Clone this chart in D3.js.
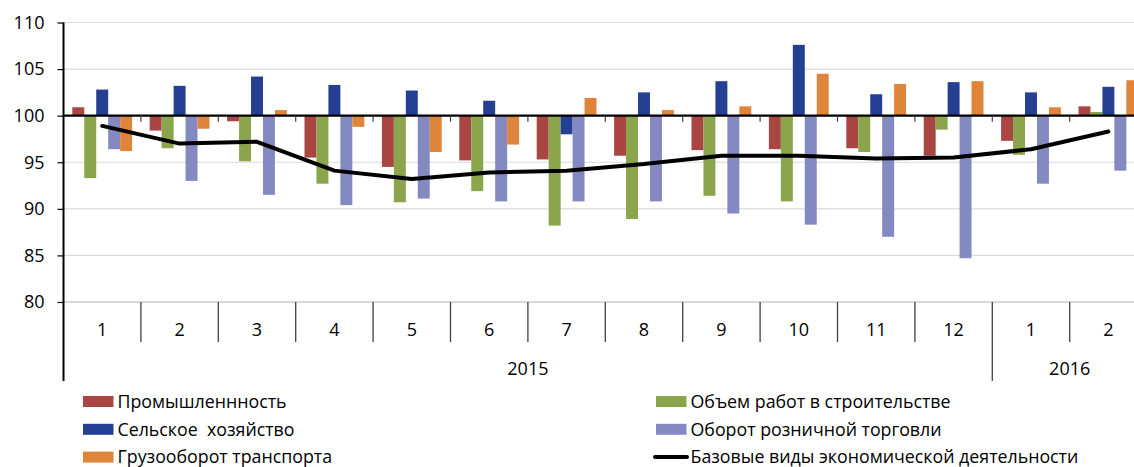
<!DOCTYPE html>
<html>
<head>
<meta charset="utf-8">
<script src="https://cdnjs.cloudflare.com/ajax/libs/d3/7.8.5/d3.min.js"></script>
<style>
  body { margin: 0; background: #fff; }
  text { font-family: "Open Sans", sans-serif; fill: #000; white-space: pre; }
</style>
</head>
<body>
<div id="chart"></div>
<script>
// months on the x axis, two years
const months = ["1", "2", "3", "4", "5", "6", "7", "8", "9", "10", "11", "12", "1", "2"];
const years = [{label: "2015", start: 0, count: 12}, {label: "2016", start: 12, count: 2}];

const seriesNames = ["Промышленнность", "Объем работ в строительстве", "Сельское  хозяйство",
                     "Оборот розничной торговли", "Грузооборот транспорта"];
const seriesColors = ["#AA4642", "#8AA54B", "#253F93", "#8489C2", "#DE843B"];

const industry     = [100.9, 98.4, 99.4, 95.5, 94.5, 95.2, 95.3, 95.7, 96.3, 96.4, 96.5, 95.7, 97.3, 101.0];
const construction = [93.3, 96.5, 95.1, 92.7, 90.7, 91.9, 88.2, 88.9, 91.4, 90.8, 96.1, 98.5, 95.8, 100.4];
const agriculture  = [102.8, 103.2, 104.2, 103.3, 102.7, 101.6, 98.0, 102.5, 103.7, 107.6, 102.3, 103.6, 102.5, 103.1];
const retail       = [96.4, 93.0, 91.5, 90.4, 91.1, 90.8, 90.8, 90.8, 89.5, 88.3, 87.0, 84.7, 92.7, 94.1];
const freight      = [96.2, 98.6, 100.6, 98.8, 96.1, 96.9, 101.9, 100.6, 101.0, 104.5, 103.4, 103.7, 100.9, 103.8];
const baseActivity = [98.9, 97.0, 97.2, 94.1, 93.2, 93.9, 94.1, 94.8, 95.7, 95.7, 95.4, 95.5, 96.4, 98.3];

const yTicks = [80, 85, 90, 95, 100, 105, 110];
const seriesData = [industry, construction, agriculture, retail, freight];

const width = 1134, height = 467;
const margin = {left: 63.5, top: 22.5, plotBottom: 302};
const plotWidth = 77.4 * months.length;

const svg = d3.select("#chart").append("svg")
    .attr("width", width)
    .attr("height", height);

const x0 = d3.scaleBand()
    .domain(d3.range(months.length))
    .range([margin.left, margin.left + plotWidth]);

const x1 = d3.scaleBand()
    .domain(d3.range(seriesData.length))
    .range([8.8, x0.bandwidth() - 8.8]);

const y = d3.scaleLinear()
    .domain([80, 110])
    .range([margin.plotBottom, margin.top]);

// gridlines
svg.append("g")
    .selectAll("line")
    .data(yTicks.filter(d => d !== 100))
    .join("line")
    .attr("x1", margin.left)
    .attr("x2", margin.left + plotWidth)
    .attr("y1", d => y(d))
    .attr("y2", d => y(d))
    .attr("stroke", "#D9D9D9")
    .attr("stroke-width", d => d === 80 ? 2 : 1.2);

// y axis
const yAxis = d3.axisLeft(y).tickValues(yTicks).tickSize(6).tickPadding(13);
const yG = svg.append("g")
    .attr("transform", "translate(" + margin.left + ",0)")
    .call(yAxis);
yG.select(".domain").remove();
yG.selectAll(".tick line").attr("stroke", "#000").attr("stroke-width", 1.2);
yG.selectAll(".tick text").style("font-size", "18px").style("font-family", "Open Sans, sans-serif");

// bars
const groups = svg.append("g")
    .selectAll("g")
    .data(months.map((m, i) => i))
    .join("g")
    .attr("transform", d => "translate(" + x0(d) + ",0)");

groups.selectAll("rect")
    .data(i => seriesData.map((s, k) => ({k: k, v: s[i]})))
    .join("rect")
    .attr("x", d => x1(d.k))
    .attr("width", x1.bandwidth())
    .attr("y", d => y(Math.max(d.v, 100)))
    .attr("height", d => Math.abs(y(d.v) - y(100)))
    .attr("fill", d => seriesColors[d.k]);

// category axis at 100
svg.append("line")
    .attr("x1", margin.left)
    .attr("x2", margin.left + plotWidth)
    .attr("y1", y(100))
    .attr("y2", y(100))
    .attr("stroke", "#000")
    .attr("stroke-width", 2.2);

svg.append("g")
    .selectAll("line")
    .data(d3.range(1, months.length))
    .join("line")
    .attr("x1", d => x0(d))
    .attr("x2", d => x0(d))
    .attr("y1", y(100))
    .attr("y2", y(100) + 6)
    .attr("stroke", "#404040")
    .attr("stroke-width", 1.2);

// base activity line
const line = d3.line()
    .x((d, i) => x0(i) + x0.bandwidth() / 2)
    .y(d => y(d));

svg.append("path")
    .datum(baseActivity)
    .attr("d", line)
    .attr("fill", "none")
    .attr("stroke", "#000")
    .attr("stroke-width", 4)
    .attr("stroke-linejoin", "round")
    .attr("stroke-linecap", "round");

// y axis line
svg.append("line")
    .attr("x1", margin.left)
    .attr("x2", margin.left)
    .attr("y1", margin.top)
    .attr("y2", 381)
    .attr("stroke", "#000")
    .attr("stroke-width", 2);

// month labels and separators
svg.append("g")
    .selectAll("text")
    .data(months)
    .join("text")
    .attr("x", (d, i) => x0(i) + x0.bandwidth() / 2)
    .attr("y", 330)
    .attr("dy", "0.35em")
    .attr("text-anchor", "middle")
    .style("font-size", "18px")
    .text(d => d);

const yearStarts = years.map(d => d.start);
svg.append("g")
    .selectAll("line")
    .data(d3.range(1, months.length))
    .join("line")
    .attr("x1", d => x0(d))
    .attr("x2", d => x0(d))
    .attr("y1", margin.plotBottom)
    .attr("y2", d => yearStarts.includes(d) ? 381 : 342)
    .attr("stroke", "#404040")
    .attr("stroke-width", 1.3);

svg.append("g")
    .selectAll("text")
    .data(years)
    .join("text")
    .attr("x", d => x0(d.start) + x0.bandwidth() * d.count / 2)
    .attr("y", 369)
    .attr("dy", "0.35em")
    .attr("text-anchor", "middle")
    .style("font-size", "18px")
    .text(d => d.label);

// legend
const legendItems = [
    {name: seriesNames[0], color: seriesColors[0], col: 0, row: 0, type: "rect"},
    {name: seriesNames[2], color: seriesColors[2], col: 0, row: 1, type: "rect"},
    {name: seriesNames[4], color: seriesColors[4], col: 0, row: 2, type: "rect"},
    {name: seriesNames[1], color: seriesColors[1], col: 1, row: 0, type: "rect"},
    {name: seriesNames[3], color: seriesColors[3], col: 1, row: 1, type: "rect"},
    {name: "Базовые виды экономической деятельности", color: "#000", col: 1, row: 2, type: "line"}
];
const legendX = [83, 656];

const lg = svg.append("g")
    .selectAll("g")
    .data(legendItems)
    .join("g")
    .attr("transform", d => "translate(" + legendX[d.col] + "," + (401.5 + d.row * 27.8) + ")");

lg.filter(d => d.type === "rect").append("rect")
    .attr("x", 0)
    .attr("y", -5.5)
    .attr("width", 30.5)
    .attr("height", 11)
    .attr("fill", d => d.color);

lg.filter(d => d.type === "line").append("line")
    .attr("x1", -1)
    .attr("x2", 31)
    .attr("y1", 0)
    .attr("y2", 0)
    .attr("stroke", "#000")
    .attr("stroke-width", 4)
    .attr("stroke-linecap", "round");

lg.append("text")
    .attr("x", 34.5)
    .attr("y", 0)
    .attr("dy", "0.35em")
    .style("font-size", "17.8px")
    .text(d => d.name);
</script>
</body>
</html>
